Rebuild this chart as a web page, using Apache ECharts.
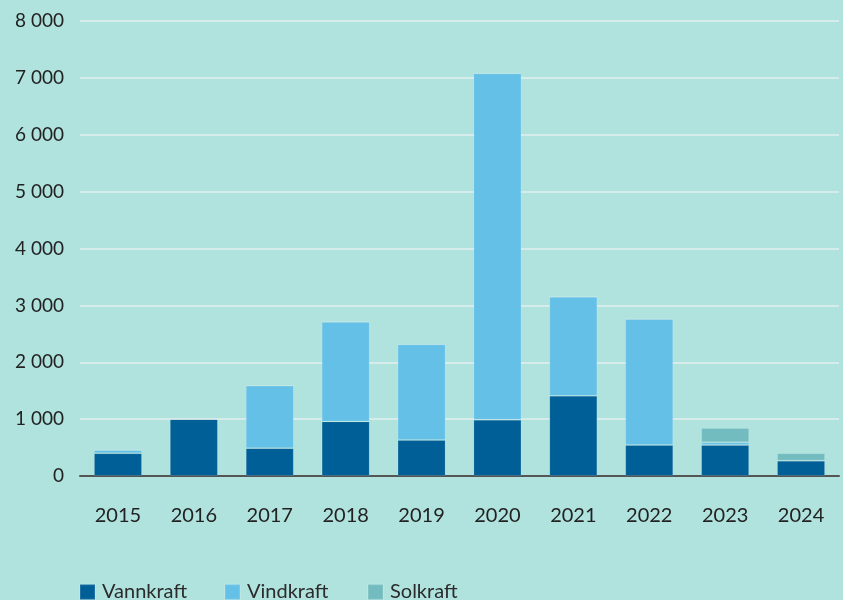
<!DOCTYPE html>
<html><head><meta charset="utf-8">
<script src="https://cdn.jsdelivr.net/npm/echarts@6/dist/echarts.min.js"></script>
<style>html,body{margin:0;padding:0;background:#b0e3de}#c{width:843px;height:600px}</style>
</head><body><div id="c"></div>
<script>
const categories = ['2015','2016','2017','2018','2019','2020','2021','2022','2023','2024'];
const vannkraft = [400, 1000, 490, 960, 635, 990, 1410, 545, 545, 270];
const vindkraft = [55, 0, 1100, 1750, 1680, 6090, 1740, 2215, 47, 0];
const solkraft  = [0, 0, 0, 0, 0, 0, 0, 0, 252, 130];
const seriesNames = ['Vannkraft', 'Vindkraft', 'Solkraft'];
const yTicks = [0, 1000, 2000, 3000, 4000, 5000, 6000, 7000, 8000];

const chart = echarts.init(document.getElementById('c'));
const font = 'Lato, "Noto Sans", sans-serif';
const barBase = { type: 'bar', stack: 'total', barWidth: 48,
  itemStyle: { borderColor: 'rgba(255,255,255,0.12)', borderWidth: 1 } };
const legendLefts = [79, 224, 367];
chart.setOption({
  backgroundColor: '#b0e3de',
  animation: false,
  textStyle: { fontFamily: font },
  grid: { left: 80, right: 4, top: 21, bottom: 124 },
  legend: seriesNames.map((n, i) => ({
    left: legendLefts[i], top: 582, padding: 0, icon: 'rect', itemWidth: 15, itemHeight: 15,
    textStyle: { fontSize: 20, color: '#2b2b2b', fontFamily: font, padding: [0, 0, 0, 2] },
    data: [n]
  })),
  xAxis: {
    type: 'category', data: categories,
    axisLine: { lineStyle: { color: '#555', width: 2 } },
    axisTick: { inside: true, length: 9, lineStyle: { color: '#555', width: 2 } },
    axisLabel: { fontSize: 20, color: '#222', margin: 30 }
  },
  yAxis: {
    type: 'value', min: yTicks[0], max: yTicks[yTicks.length-1], interval: 1000,
    axisLine: { show: false }, axisTick: { show: false },
    splitLine: { lineStyle: { color: '#d6ecea', width: 2 } },
    axisLabel: { fontSize: 19, color: '#222', margin: 16,
      formatter: v => String(v).replace(/\B(?=(\d{3})+(?!\d))/g, ' ') }
  },
  series: [
    Object.assign({}, barBase, { name: 'Vannkraft', data: vannkraft, itemStyle: Object.assign({}, barBase.itemStyle, { color: '#005f96' }) }),
    Object.assign({}, barBase, { name: 'Vindkraft', data: vindkraft, itemStyle: Object.assign({}, barBase.itemStyle, { color: '#64c0e6' }) }),
    Object.assign({}, barBase, { name: 'Solkraft', data: solkraft, itemStyle: Object.assign({}, barBase.itemStyle, { color: '#72bcc0' }) })
  ]
});
</script></body></html>
